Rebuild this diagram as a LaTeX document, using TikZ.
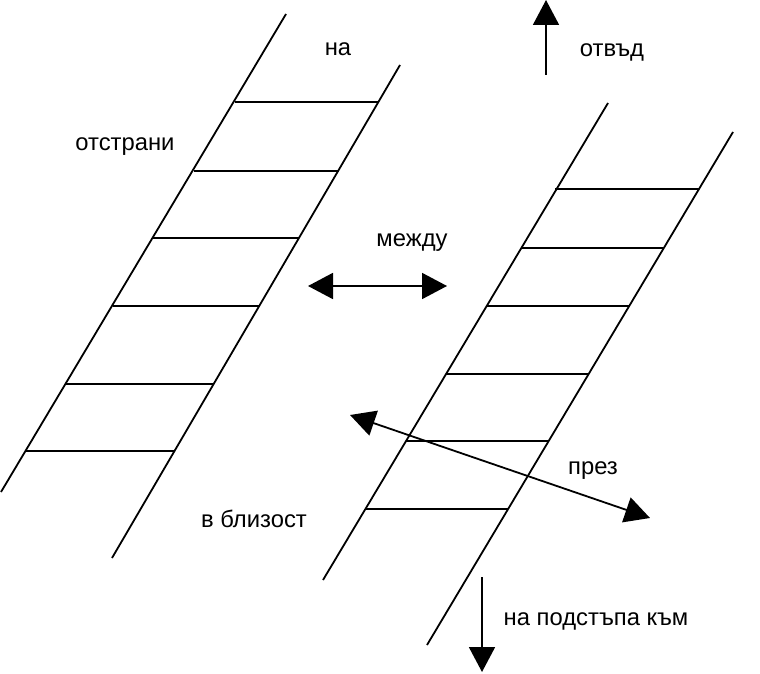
\documentclass[tikz,border=0pt]{standalone}
\usepackage{fontspec}
\setmainfont{Liberation Sans}
\usetikzlibrary{arrows.meta}

\begin{document}
\begin{tikzpicture}[
        x=1pt,y=-1pt,
        rail/.style={line width=1.8pt},
        rung/.style={line width=1.8pt},
        arr/.style={-{Triangle[length=25pt,width=26pt]},line width=1.8pt},
        darr/.style={{Triangle[length=25pt,width=26pt]}-{Triangle[length=25pt,width=26pt]},line width=1.8pt},
        lbl/.style={font=\fontsize{23.8}{28}\selectfont,anchor=base,inner sep=0pt},
      ]
        \useasboundingbox (0,0) rectangle (760,674);
        % left ladder
        \draw[rail](286,14)--(1,492);
        \draw[rail](400,65)--(112,558);
        \foreach \y/\xa/\xb in {102/235/378,171/194/339,238/153/299,
                                306/113/259,384/66/214,451/26/175}
          \draw[rung](\xa,\y)--(\xb,\y);
        % right ladder
        \draw[rail](608,103)--(323,580);
        \draw[rail](733,132)--(427,645);
        \foreach \y/\xa/\xb in {189/555/699,248/521/663,306/487/629,
                                374/446/589,441/406/549,509/366/508}
          \draw[rung](\xa,\y)--(\xb,\y);
        % arrow ends
        \coordinate(up0) at (546,75);
        \coordinate(up1) at (546,0);
        \coordinate(dn0) at (482,577);
        \coordinate(dn1) at (482,672);
        \coordinate(btw0) at (308,286);
        \coordinate(btw1) at (447,286);
        \coordinate(thr0) at (350,415);
        \coordinate(thr1) at (650,518);
        \draw[arr](up0)--(up1);
        \draw[arr](dn0)--(dn1);
        \draw[darr](btw0)--(btw1);
        \draw[darr](thr0)--(thr1);
        % labels
        \node[lbl](na) at (338,56){на};
        \node[lbl](otstrani) at (125,150){отстрани};
        \node[lbl](mezhdu) at (412,246){между};
        \node[lbl](otvad) at (612,57){отвъд};
        \node[lbl](prez) at (593,474){през};
        \node[lbl](blizost) at (254,527){в близост};
        \node[lbl](podstap) at (596,625){на подстъпа към};
      \end{tikzpicture}
\end{document}
